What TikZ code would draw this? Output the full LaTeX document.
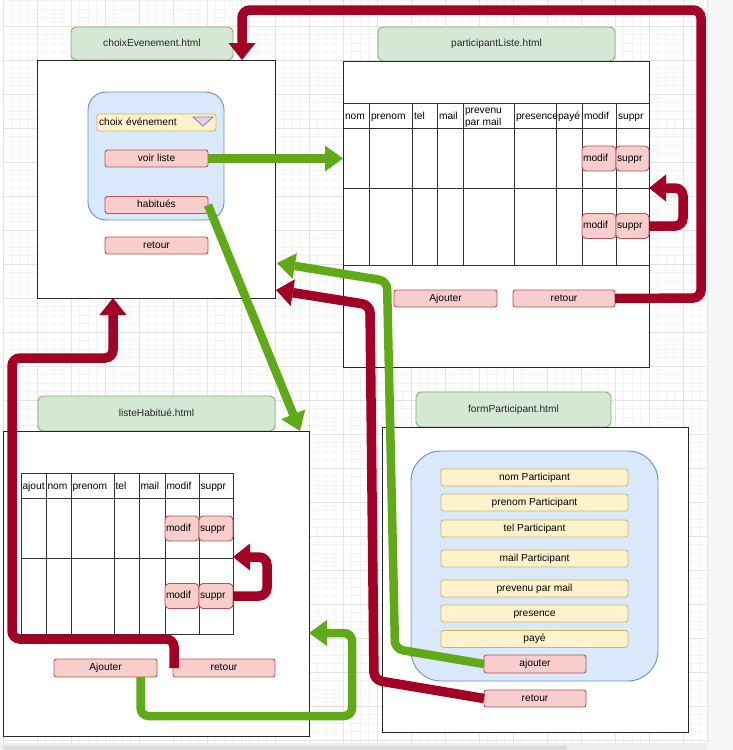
\documentclass[tikz,border=0pt]{standalone}
\usepackage{fontspec}
\setmainfont{Liberation Sans}
\usetikzlibrary{arrows.meta,calc}
\definecolor{redF}{HTML}{F8CECC}\definecolor{redD}{HTML}{B85450}
\definecolor{grnF}{HTML}{D5E8D4}\definecolor{grnD}{HTML}{82B366}
\definecolor{bluF}{HTML}{DAE8FC}\definecolor{bluD}{HTML}{6C8EBF}
\definecolor{yelF}{HTML}{FFF2CC}\definecolor{yelD}{HTML}{D6B656}
\definecolor{purF}{HTML}{E1D5E7}\definecolor{purD}{HTML}{9673A6}
\definecolor{arrR}{HTML}{A20025}\definecolor{arrG}{HTML}{60A917}
\definecolor{gridMin}{HTML}{F3F3F3}\definecolor{gridMaj}{HTML}{E3E3E3}
\definecolor{sideG}{HTML}{F5F6F8}\definecolor{barG}{HTML}{EFEFEF}\definecolor{thumbG}{HTML}{DCDCDC}
\begin{document}
\begin{tikzpicture}[x=1pt,y=-1pt,
  every node/.style={font=\fontsize{10.2}{12}\selectfont, inner sep=0pt, outer sep=0pt},
  txt/.style={text height=7.6pt, text depth=2.2pt},
  frame/.style={draw=black!85, line width=1pt, fill=white},
  title/.style={txt, draw=grnD, fill=grnF, rounded corners=5pt, line width=0.9pt, text=black!85},
  container/.style={draw=bluD, fill=bluF, line width=0.9pt},
  btn/.style={txt, draw=redD, fill=redF, rounded corners=2.5pt, line width=0.9pt, minimum height=17pt},
  cbtn/.style={btn, minimum height=25pt, rounded corners=4pt, align=left, inner xsep=1pt},
  field/.style={txt, draw=yelD, fill=yelF, rounded corners=2.5pt, line width=0.9pt, minimum width=187pt, minimum height=17pt},
  tline/.style={draw=black!80, line width=1pt},
  redarrow/.style={draw=arrR, line width=9.5pt, rounded corners=8pt, -{Triangle[length=17pt,width=27pt,line width=0pt]}},
  greenarrow/.style={draw=arrG, line width=8.5pt, rounded corners=8pt, -{Triangle[length=18pt,width=26pt,line width=0pt]}}
]
\useasboundingbox (0,0) rectangle (733,750);
% background and grid
\fill[white] (0,0) rectangle (733,750);
\foreach \i in {0,...,82} {\draw[gridMin, line width=0.8pt] ({3+\i*8.5},0) -- ({3+\i*8.5},743);}
\foreach \i in {0,...,87} {\draw[gridMin, line width=0.8pt] (3,{0.5+\i*8.5}) -- (707,{0.5+\i*8.5});}
\foreach \i in {0,...,20} {\draw[gridMaj, line width=0.8pt] ({3+\i*34},0) -- ({3+\i*34},743);}
\foreach \i in {0,...,21} {\draw[gridMaj, line width=0.8pt] (3,{26+\i*34}) -- (707,{26+\i*34});}
\fill[sideG] (707,0) rectangle (733,750);
\draw[gridMaj, line width=0.8pt] (707,0) -- (707,743);
\fill[barG] (0,743) rectangle (707,750);
\fill[thumbG, rounded corners=2pt] (3,745.5) rectangle (567,751);

% ---------- choixEvenement.html ----------
\node[title, minimum width=162pt, minimum height=33pt] (t1) at (152,43.5) {choixEvenement.html};
\node[frame, minimum width=238pt, minimum height=238pt] (f1) at (156,179) {};
\node[container, rounded corners=18pt, minimum width=136pt, minimum height=128pt] (b1) at (156,156) {};
\node[field, minimum width=119pt, text width=115pt, align=left, inner xsep=2pt] (dd) at (156.5,122.5) {choix événement};
\draw[fill=purF, draw=purD, line width=0.8pt] (193,117) -- (213,117) -- (203,126) -- cycle;
\node[btn, minimum width=103pt] (voir) at (156.5,158.5) {voir liste};
\node[btn, minimum width=103pt] (hab) at (156.5,205) {habitués};
\node[btn, minimum width=103pt] (ret1) at (156.5,245.5) {retour};

% ---------- participantListe.html ----------
\node[title, minimum width=237pt, minimum height=34pt] (t2) at (496.5,44) {participantListe.html};
\node[frame, minimum width=306pt, minimum height=306pt] (f2) at (496,214) {};
\foreach \y in {103,128,188,265} {\draw[tline] (343,\y) -- (649,\y);}
\foreach \x in {369,412,437,463,514,556,582,616} {\draw[tline] (\x,103) -- (\x,265);}
\foreach \x/\t [count=\n] in {343/nom,369/prenom,412/tel,437/mail,514/presence,556/payé,582/modif,616/suppr}
  {\node[txt, anchor=west] (hp\n) at (\x+2,116.5) {\t};}
\node[anchor=west, align=left] (hpv) at (465,117.5) {prevenu\\par mail};
\node[cbtn, text width=32pt] (m2a) at (599,158.5) {modif};
\node[cbtn, text width=31pt] (s2a) at (632.5,158.5) {suppr};
\node[cbtn, text width=32pt] (m2b) at (599,226) {modif};
\node[cbtn, text width=31pt] (s2b) at (632.5,226) {suppr};
\node[btn, minimum width=103pt] (aj2) at (445.5,298.5) {Ajouter};
\node[btn, minimum width=102pt] (ret2) at (564,298.5) {retour};

% ---------- listeHabitué.html ----------
\node[title, minimum width=237pt, minimum height=35pt] (t3) at (156.5,413.5) {listeHabitué.html};
\node[frame, minimum width=306pt, minimum height=305pt] (f3) at (156,583.5) {};
\draw[tline] (21,473) rectangle (233,634);
\foreach \y in {498,558} {\draw[tline] (21,\y) -- (233,\y);}
\foreach \x in {46,71,114,139,165,199} {\draw[tline] (\x,473) -- (\x,634);}
\foreach \x/\t [count=\n] in {21/ajout,46/nom,71/prenom,114/tel,139/mail,165/modif,199/suppr}
  {\node[txt, anchor=west] (hh\n) at (\x+1.5,486.5) {\t};}
\node[cbtn, text width=32pt] (m3a) at (182,528.5) {modif};
\node[cbtn, text width=32pt] (s3a) at (216,528.5) {suppr};
\node[cbtn, text width=32pt] (m3b) at (182,596) {modif};
\node[cbtn, text width=32pt] (s3b) at (216,596) {suppr};
\node[btn, minimum width=103pt, minimum height=18pt] (aj3) at (105.5,668) {Ajouter};
\node[btn, minimum width=102pt, minimum height=18pt] (ret3) at (224,668) {retour};

% ---------- formParticipant.html ----------
\node[title, minimum width=195pt, minimum height=35pt] (t4) at (513.5,409.5) {formParticipant.html};
\node[frame, minimum width=306pt, minimum height=305pt] (f4) at (535,579.5) {};
\node[container, rounded corners=30pt, minimum width=247pt, minimum height=230pt] (b4) at (534.5,566) {};
\node[field] (fnom) at (534.5,477.5) {nom Participant};
\node[field] (fpre) at (534.5,502.5) {prenom Participant};
\node[field] (ftel) at (534.5,528.5) {tel Participant};
\node[field] (fmail) at (534.5,558.5) {mail Participant};
\node[field] (fprev) at (534.5,588.5) {prevenu par mail};
\node[field] (fpres) at (534.5,613.5) {presence};
\node[field] (fpaye) at (534.5,639) {payé};
\node[btn, minimum width=102pt, minimum height=18pt] (aj4) at (535,664) {ajouter};
\node[btn, minimum width=102pt] (ret4) at (535,698.5) {retour};

% ---------- connectors ----------
\coordinate (e1) at (242,60);
\coordinate (e2) at (649,188);
\coordinate (e3) at (300,431);
\coordinate (e4) at (277,263);
\coordinate (e5) at (276,290);
\coordinate (e6) at (233,557);
\draw[redarrow] (ret2.east) -- (701,298) -- (701,10) -- (242,10) -- (e1);
\draw[greenarrow] (voir.east) -- (voir.east -| f2.west);
\draw[redarrow] (s2b.east) -- (683,226) -- (683,188) -- (e2);
\draw[greenarrow] (hab.east) -- (e3);
\draw[greenarrow] (aj4.west) -- (395,649) -- (387,281) -- (e4);
\draw[redarrow] (ret4.west) -- (374,680) -- (370,305) -- (e5);
\draw[redarrow] (s3b.east) -- (267,596) -- (267,557) -- (e6);
\draw[redarrow] ([xshift=1pt]ret3.west) -- (174,639) -- (12,639) -- (12,358) -- (113,358) -- ([xshift=-43pt]f1.south);
\draw[greenarrow] ([xshift=35pt]aj3.south) -- (140.5,716) -- (352,716) -- (352,633) -- ([yshift=-49.5pt]f3.east);
\end{tikzpicture}
\end{document}
